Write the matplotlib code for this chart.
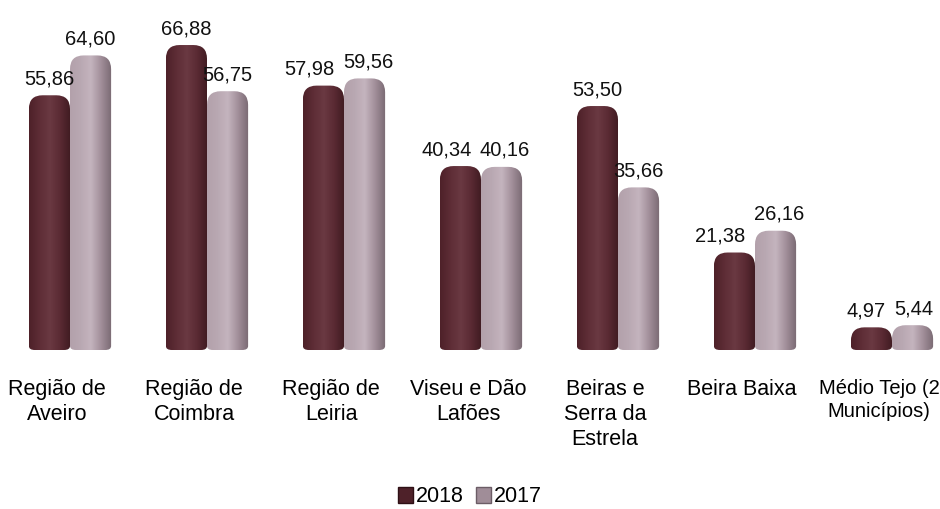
import numpy as np
import matplotlib
matplotlib.use('Agg')
import matplotlib.pyplot as plt
from matplotlib.path import Path
from matplotlib.patches import PathPatch, Patch
from matplotlib.colors import LinearSegmentedColormap

plt.rcParams['font.family'] = ['Liberation Sans', 'DejaVu Sans']

categories = ['Região de\nAveiro', 'Região de\nCoimbra', 'Região de\nLeiria',
              'Viseu e Dão\nLafões', 'Beiras e\nSerra da\nEstrela', 'Beira Baixa',
              'Médio Tejo (2\nMunicípios)']
vals_2018 = [55.86, 66.88, 57.98, 40.34, 53.50, 21.38, 4.97]
vals_2017 = [64.60, 56.75, 59.56, 40.16, 35.66, 26.16, 5.44]
series_names = ['2018', '2017']

cmap_2018 = LinearSegmentedColormap.from_list(
    'c18', ['#4e2129', '#5e2d36', '#6a3942', '#5a2a33', '#3f1b21'])
cmap_2017 = LinearSegmentedColormap.from_list(
    'c17', ['#b3a1ab', '#b9a8b2', '#c4b4be', '#a18e99', '#7a6a73'])

fig = plt.figure(figsize=(9.4, 5.09), dpi=100)
ax = fig.add_axes([0, (509 - 350) / 509, 1, 350 / 509])

# pixel scale of the axes
px_x = 137.0
px_y = 4.56
x = np.arange(len(categories))
w = 0.3
xlim = (-70 / px_x, (940 - 70) / px_x)
ylim = (0, 350 / px_y)


def rounded_bar(ax, rect, cmap):
    x0, y0 = rect.get_x(), rect.get_y()
    x1, h = x0 + rect.get_width(), rect.get_height()
    ry = min(0.1 * px_x / px_y, h * 0.6)
    rx = ry * px_y / px_x
    ryb = 4 / px_y
    rxb = 6 / px_x
    verts = [(x0 + rxb, y0), (x0, y0), (x0, y0 + ryb), (x0, h - ry), (x0, h), (x0 + rx, h),
             (x1 - rx, h), (x1, h), (x1, h - ry), (x1, y0 + ryb), (x1, y0), (x1 - rxb, y0),
             (x0 + rxb, y0)]
    codes = [Path.MOVETO, Path.CURVE3, Path.CURVE3, Path.LINETO, Path.CURVE3, Path.CURVE3,
             Path.LINETO, Path.CURVE3, Path.CURVE3, Path.LINETO, Path.CURVE3, Path.CURVE3,
             Path.CLOSEPOLY]
    patch = PathPatch(Path(verts, codes), facecolor='none', edgecolor='none')
    ax.add_patch(patch)
    grad = np.linspace(0, 1, 64).reshape(1, -1)
    im = ax.imshow(grad, extent=[x0, x1, y0, h], aspect='auto', cmap=cmap,
                   interpolation='bilinear', zorder=2)
    im.set_clip_path(patch)
    rect.set_visible(False)


bars18 = ax.bar(x - w / 2, vals_2018, w)
bars17 = ax.bar(x + w / 2, vals_2017, w)
for r in bars18:
    rounded_bar(ax, r, cmap_2018)
for r in bars17:
    rounded_bar(ax, r, cmap_2017)

# value labels, pushed apart when the two of a group would collide
lab_fs = 14.5
for r18, r17, v18, v17 in zip(bars18, bars17, vals_2018, vals_2017):
    t18 = f'{v18:.2f}'.replace('.', ',')
    t17 = f'{v17:.2f}'.replace('.', ',')
    shift = 0
    if abs(v18 - v17) * px_y < 24:
        est_w = 0.5 * lab_fs * 1.39 * 0.556 * (len(t18) + len(t17) - 1)
        shift = max(0, (est_w + 8 - w * px_x) / 2) * 0.72
    for r, v, t, s in [(r18, v18, t18, -shift * 1.6), (r17, v17, t17, shift * 0.4)]:
        ax.annotate(t, (r.get_x() + r.get_width() / 2, v),
                    xytext=(s, 5), textcoords='offset points',
                    ha='center', va='bottom', fontsize=lab_fs, color='#111111')

ax.set_xlim(*xlim)
ax.set_ylim(*ylim)
ax.set_xticks(x - 13 / px_x)
ticklabels = ax.set_xticklabels(categories, fontsize=15.5, linespacing=1.25, va='top')
ticklabels[-1].set_fontsize(14.5)  # narrower font in the original, keep it inside
ax.tick_params(axis='x', length=0, pad=21)
ax.set_yticks([])
for s in ax.spines.values():
    s.set_visible(False)

handles = [Patch(facecolor='#4e2129', edgecolor='#2e1015', label=series_names[0]),
           Patch(facecolor='#a08d98', edgecolor='#6c5d66', label=series_names[1])]
fig.legend(handles=handles, loc='center', bbox_to_anchor=(0.5, 1 - 497 / 509),
           ncol=2, frameon=False, fontsize=15.5, handlelength=0.7,
           handleheight=0.7, handletextpad=0.1, columnspacing=0.6)

fig.savefig('out.png', dpi=100)
